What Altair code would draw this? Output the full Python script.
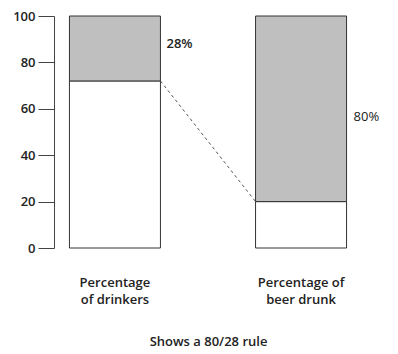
import altair as alt
import pandas as pd

categories = ["Percentage|of drinkers", "Percentage of|beer drunk"]
bottom_share = [72, 20]
top_share = [28, 80]
top_labels = ["28%", "80%"]
y_ticks = [0, 20, 40, 60, 80, 100]
caption = "Shows a 80/28 rule"

FONT = "Open Sans"
TEXT = "#222222"
LINE = "#444444"

rows = []
for c, b, t in zip(categories, bottom_share, top_share):
    rows.append({"cat": c, "part": "low", "y0": 0, "y1": b})
    rows.append({"cat": c, "part": "high", "y0": b, "y1": b + t})
seg = pd.DataFrame(rows)

lab = pd.DataFrame({
    "cat": categories,
    "mid": [b + t / 2 for b, t in zip(bottom_share, top_share)],
    "label": top_labels,
})

link = pd.DataFrame({"from": [categories[0]], "to": [categories[1]],
                     "ya": [bottom_share[0]], "yb": [bottom_share[1]]})

xscale = alt.Scale(domain=categories, paddingInner=0.511, paddingOuter=0.083)
yscale = alt.Scale(domain=[0, 100], nice=False)

bars = alt.Chart(seg).mark_bar(stroke="#333333", strokeWidth=1).encode(
    x=alt.X("cat:N", scale=xscale, sort=categories,
            axis=alt.Axis(title=caption, domain=False, ticks=False,
                          labelAngle=0, labelExpr="split(datum.value, '|')",
                          labelPadding=28, labelLineHeight=17.5,
                          labelFont=FONT, labelFontSize=13, labelFontWeight=600,
                          labelColor=TEXT, titleFont=FONT, titleFontSize=13,
                          titleFontWeight=600, titleColor=TEXT, titlePadding=29)),
    y=alt.Y("y0:Q", scale=yscale,
            axis=alt.Axis(title=None, values=y_ticks, grid=False, tickSize=16,
                          domainColor=LINE, tickColor=LINE, labelPadding=3,
                          labelFont=FONT, labelFontSize=13, labelFontWeight=600,
                          labelColor=TEXT)),
    y2="y1:Q",
    color=alt.Color("part:N", scale=alt.Scale(domain=["low", "high"],
                                               range=["#ffffff", "#bfbfbf"]),
                    legend=None),
)

rule = alt.Chart(link).mark_rule(color="#555555", strokeWidth=1, strokeDash=[3, 3]).encode(
    x=alt.X("from:N", scale=xscale, bandPosition=1),
    x2=alt.X2("to:N", bandPosition=0),
    y=alt.Y("ya:Q", scale=yscale),
    y2="yb:Q",
)

t1 = alt.Chart(lab).transform_filter(alt.datum.label == top_labels[0]).mark_text(
    align="left", dx=6, dy=-4, font=FONT, fontSize=13, fontWeight=600, color=TEXT
).encode(x=alt.X("cat:N", scale=xscale, bandPosition=1), y=alt.Y("mid:Q", scale=yscale), text="label:N")

t2 = alt.Chart(lab).transform_filter(alt.datum.label == top_labels[1]).mark_text(
    align="left", dx=7, dy=8, font=FONT, fontSize=13, fontWeight=500, color=TEXT
).encode(x=alt.X("cat:N", scale=xscale, bandPosition=1), y=alt.Y("mid:Q", scale=yscale), text="label:N")

chart = alt.layer(bars, rule, t1, t2).properties(
    width=308, height=232,
    padding={"left": 54, "top": 16, "right": 36, "bottom": 106},
    autosize=alt.AutoSizeParams(type="none"),
    background="white",
).configure_view(stroke=None)

chart.save("out.html", embed_options={"renderer": "svg", "actions": False})
